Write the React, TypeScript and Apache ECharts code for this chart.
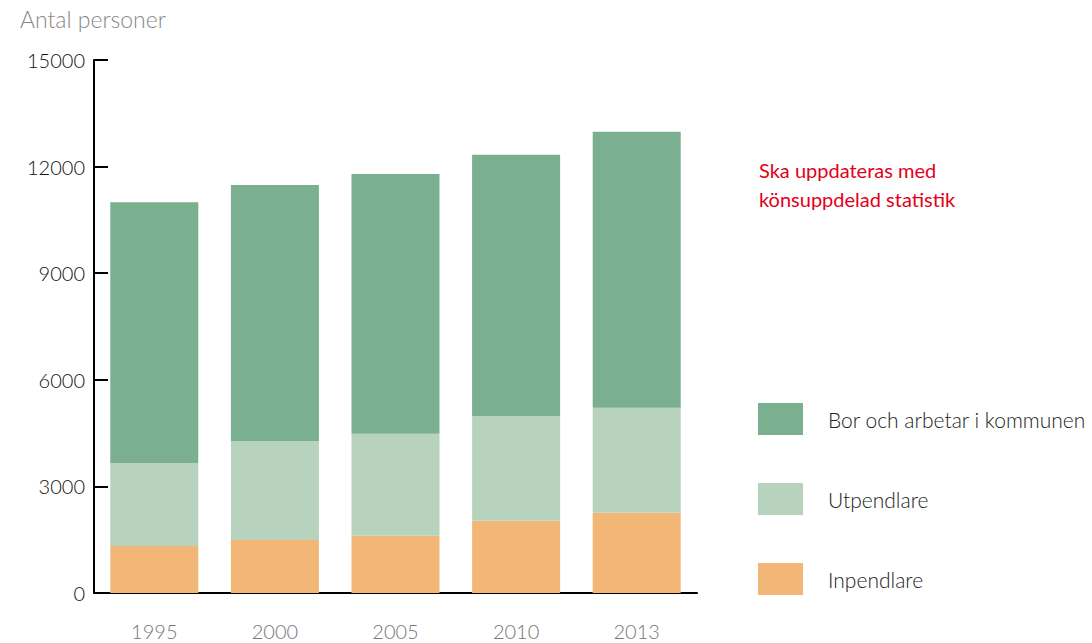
import React, { useEffect, useRef } from "react";
import * as echarts from "echarts";

const years = ["1995", "2000", "2005", "2010", "2013"];
const inpendlare = [1320, 1490, 1610, 2030, 2260];
const utpendlare = [2340, 2790, 2870, 2950, 2950];
const borOchArbetar = [7340, 7200, 7310, 7350, 7770];
const yTicks = { min: 0, max: 15000, interval: 3000 };

const FONT = "Lato, 'Open Sans', sans-serif";

export default function App() {
  const ref = useRef<HTMLDivElement>(null);
  useEffect(() => {
    if (!ref.current) return;
    const chart = echarts.init(ref.current, undefined, { renderer: "svg" });
    chart.setOption({
      animation: false,
      textStyle: { fontFamily: FONT },
      grid: { left: 94, top: 60, width: 603, height: 533, containLabel: false },
      legend: {
        orient: "vertical",
        left: 758,
        top: 403,
        padding: 0,
        itemWidth: 45,
        itemHeight: 32,
        itemGap: 48,
        icon: "rect",
        data: ["Bor och arbetar i kommunen", "Utpendlare", "Inpendlare"],
        textStyle: {
          fontFamily: FONT,
          fontSize: 21,
          fontWeight: 300,
          color: "#222",
          padding: [0, 0, 0, 20],
        },
      },
      xAxis: {
        type: "category",
        data: years,
        axisLine: { lineStyle: { color: "#000", width: 2 } },
        axisTick: { alignWithLabel: true, length: 14, lineStyle: { color: "#000", width: 2 } },
        axisLabel: { color: "#777", fontSize: 20, fontWeight: 300, margin: 28, fontFamily: FONT },
        splitLine: { show: false },
      },
      yAxis: {
        type: "value",
        min: yTicks.min,
        max: yTicks.max,
        interval: yTicks.interval,
        name: "Antal personer",
        nameLocation: "end",
        nameGap: 30,
        nameTextStyle: {
          color: "#888",
          fontSize: 23,
          fontWeight: 300,
          fontFamily: FONT,
          align: "left",
          padding: [0, 0, 0, -74],
        },
        axisLine: { show: true, lineStyle: { color: "#000", width: 2 } },
        axisTick: { show: true, inside: true, length: 14, lineStyle: { color: "#000", width: 2 } },
        axisLabel: {
          color: "#111",
          fontSize: 20,
          fontWeight: 300,
          margin: 9,
          fontFamily: FONT,
          formatter: (v: number) => String(v),
        },
        splitLine: { show: false },
      },
      series: [
        {
          name: "Inpendlare",
          type: "bar",
          stack: "total",
          data: inpendlare,
          barWidth: 88,
          itemStyle: { color: "#F2B776" },
        },
        {
          name: "Utpendlare",
          type: "bar",
          stack: "total",
          data: utpendlare,
          barWidth: 88,
          itemStyle: { color: "#B7D2BD" },
        },
        {
          name: "Bor och arbetar i kommunen",
          type: "bar",
          stack: "total",
          data: borOchArbetar,
          barWidth: 88,
          itemStyle: { color: "#7AAF8F" },
        },
      ],
      graphic: [
        {
          type: "text",
          left: 759,
          top: 155,
          style: {
            text: "Ska uppdateras med\nkönsuppdelad statistik",
            fill: "#E2001A",
            fontSize: 20,
            lineHeight: 29,
            fontFamily: FONT,
          },
        },
      ],
    });
    return () => chart.dispose();
  }, []);
  return <div ref={ref} style={{ width: 1092, height: 643, position: "absolute", left: 0, top: 0 }} />;
}
